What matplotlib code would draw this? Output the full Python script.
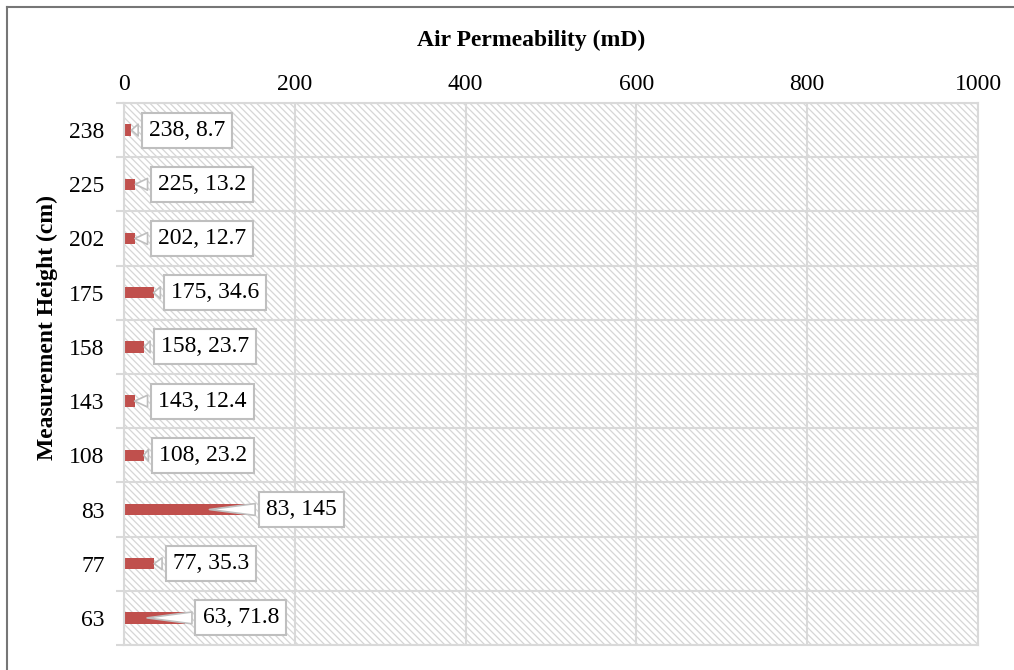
import matplotlib.pyplot as plt
from matplotlib.patches import Rectangle
from matplotlib.lines import Line2D
import numpy as np

plt.rcParams['font.family'] = ['Liberation Serif', 'DejaVu Serif']
plt.rcParams['hatch.linewidth'] = 0.9

# Measurement heights (cm), bottom to top, and air permeability (mD)
heights = ['63', '77', '83', '108', '143', '158', '175', '202', '225', '238']
permeability = [71.8, 35.3, 145, 23.2, 12.4, 23.7, 34.6, 12.7, 13.2, 8.7]

# where each callout text starts and where its pointer lands (data units)
label_x = [92, 57, 166, 41, 40, 43, 55, 40, 40, 29]
pointer_x = [27, 35.3, 100, 23.2, 12.4, 23.7, 34.6, 12.7, 13.2, 8.7]

W, H = 1014, 670
fig = plt.figure(figsize=(W / 100, H / 100), dpi=100)
ax = fig.add_axes([124 / W, 1 - 645 / H, (978 - 124) / W, (645 - 103) / H])

grid_col = '#D9D9D9'
ypos = np.arange(len(heights))

# hatched plot background
ax.add_patch(Rectangle((0, 0), 1, 1, transform=ax.transAxes, facecolor='white',
                       edgecolor='#D6D6D6', hatch='\\\\\\\\\\', lw=0, zorder=0))

ax.barh(ypos, permeability, height=0.21, color='#C0504D', zorder=2)

for y, v, h, lx, px in zip(ypos, permeability, heights, label_x, pointer_x):
    ax.annotate(f'{h}, {v:g}', xy=(px, y), xytext=(lx, y), ha='left', va='center',
                fontsize=17, zorder=4,
                bbox=dict(boxstyle='square,pad=0.3', fc='white', ec='#BFBFBF', lw=1.5),
                arrowprops=dict(arrowstyle='wedge,tail_width=0.5,shrink_factor=0.5',
                                fc='white', ec='#BFBFBF', lw=1.2, shrinkB=0))

ax.set_xlim(0, 1000)
ax.set_ylim(-0.5, len(heights) - 0.5)
ax.set_xticks(np.arange(0, 1001, 200))
ax.xaxis.tick_top()
ax.tick_params(axis='x', length=0, pad=6, labelsize=17)
ax.set_yticks(ypos)
ax.set_yticklabels(heights)
ax.tick_params(axis='y', which='major', length=0, pad=14, labelsize=17)
ax.set_yticks(np.arange(-0.5, len(heights)), minor=True)
ax.tick_params(axis='y', which='minor', length=6, width=1.5, color=grid_col)

ax.set_axisbelow(True)
ax.grid(axis='x', which='major', color=grid_col, lw=1.5)
ax.grid(axis='y', which='minor', color=grid_col, lw=1.5)
for s in ax.spines.values():
    s.set_color(grid_col)
    s.set_linewidth(1.5)

fig.text(531 / W, 1 - 40 / H, 'Air Permeability (mD)', ha='center', va='center',
         fontsize=17, fontweight='bold')
fig.text(47 / W, 1 - 328 / H, 'Measurement Height (cm)', ha='center', va='center',
         rotation=90, fontsize=17, fontweight='bold')

# outer frame on left and top
fig.add_artist(Line2D([7 / W, 7 / W], [0, 1 - 7 / H], color='#767676', lw=1.5))
fig.add_artist(Line2D([7 / W, 1], [1 - 7 / H, 1 - 7 / H], color='#767676', lw=1.5))

fig.savefig('out.png', dpi=100)
